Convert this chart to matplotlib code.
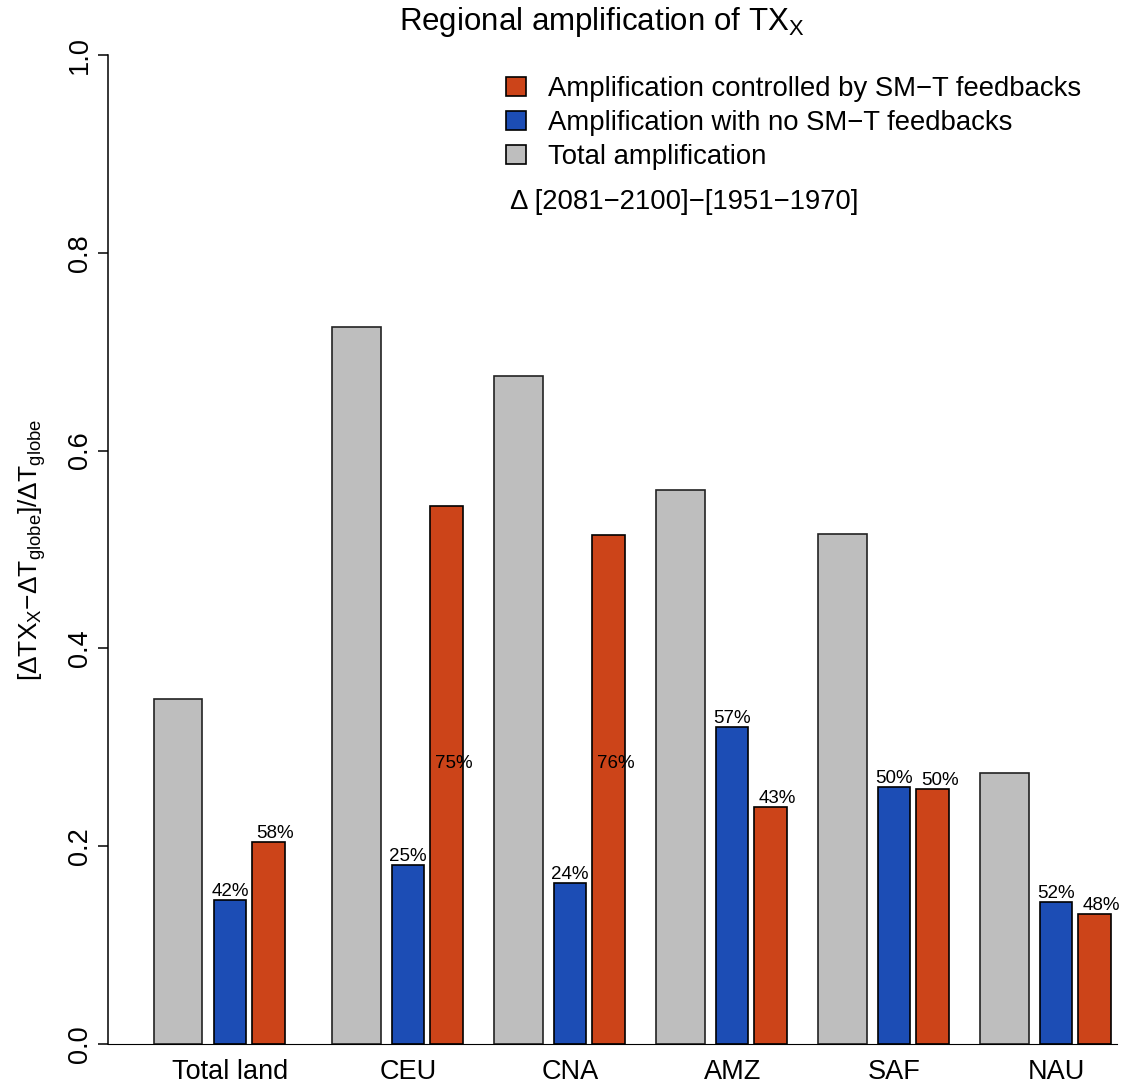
import numpy as np
import matplotlib
matplotlib.use('Agg')
import matplotlib.pyplot as plt
from matplotlib.patches import Patch

plt.rcParams['font.family'] = ['Liberation Sans', 'DejaVu Sans']
plt.rcParams['mathtext.fontset'] = 'custom'
plt.rcParams['mathtext.rm'] = 'Liberation Sans'
plt.rcParams['mathtext.it'] = 'Liberation Sans'
plt.rcParams['mathtext.bf'] = 'Liberation Sans:bold'

# data
regions = ['Total land', 'CEU', 'CNA', 'AMZ', 'SAF', 'NAU']
total_amp = [0.349, 0.725, 0.675, 0.560, 0.516, 0.274]
no_smt_amp = [0.146, 0.181, 0.163, 0.321, 0.260, 0.144]
smt_amp = [0.204, 0.544, 0.515, 0.240, 0.258, 0.131]
no_smt_pct = ['42%', '25%', '24%', '57%', '50%', '52%']
smt_pct = ['58%', '75%', '76%', '43%', '50%', '48%']

col_gray = '#bebebe'
col_blue = '#1c4db5'
col_red = '#cc4419'

fig = plt.figure(figsize=(11.25, 10.89), dpi=100)
ax = fig.add_axes([108 / 1125, 45 / 1089, 1009 / 1125, 989 / 1089])

# group layout (blue bar centres), first group sits a bit further left
group_x = np.array([0, 1.1, 2.1, 3.1, 4.1, 5.1])

ax.bar(group_x - 0.32, total_amp, width=0.30, color=col_gray,
       edgecolor='#222222', linewidth=1.2, zorder=2)
ax.bar(group_x, no_smt_amp, width=0.20, color=col_blue,
       edgecolor='black', linewidth=1.2, zorder=2)
ax.bar(group_x + 0.237, smt_amp, width=0.20, color=col_red,
       edgecolor='black', linewidth=1.2, zorder=2)

ax.axhline(0, color='black', linewidth=0.8, zorder=3, clip_on=False)


def label_y(v):
    # tall bars get their label inside the bar
    return v if v < 0.4 else 0.275


for i in range(len(regions)):
    ax.annotate(no_smt_pct[i], (group_x[i], label_y(no_smt_amp[i])),
                xytext=(0, 0), textcoords='offset points',
                ha='center', va='bottom', fontsize=13.5)
    ax.annotate(smt_pct[i], (group_x[i] + 0.237, label_y(smt_amp[i])),
                xytext=(5, 0), textcoords='offset points',
                ha='center', va='bottom', fontsize=13.5)

ax.set_xlim(-0.753, 5.475)
ax.set_ylim(0, 1)

for side in ['top', 'right', 'bottom']:
    ax.spines[side].set_visible(False)
ax.spines['left'].set_bounds(0, 1)
ax.spines['left'].set_linewidth(1.1)

ax.set_yticks(np.arange(0, 1.01, 0.2))
ax.set_yticklabels(['0.0', '0.2', '0.4', '0.6', '0.8', '1.0'])
ax.tick_params(axis='y', labelrotation=90, length=7.2, width=1.1,
               pad=3.5, labelsize=19.5)
for lab in ax.get_yticklabels():
    lab.set_va('center')

ax.set_xticks(group_x)
ax.set_xticklabels(regions)
ax.tick_params(axis='x', length=0, pad=11, labelsize=19.5)

ax.set_ylabel(r'$[\Delta\mathrm{TX}_\mathrm{X}{-}\Delta\mathrm{T}_{\mathrm{globe}}]/\Delta\mathrm{T}_{\mathrm{globe}}$',
              fontsize=19, labelpad=14)

fig.text(602 / 1125, 1 - 22 / 1089, r'Regional amplification of $\mathrm{TX}_\mathrm{X}$',
         ha='center', va='center', fontsize=22.5)

handles = [Patch(facecolor=col_red, edgecolor='black', linewidth=1.2),
           Patch(facecolor=col_blue, edgecolor='black', linewidth=1.2),
           Patch(facecolor=col_gray, edgecolor='black', linewidth=1.2)]
labels = ['Amplification controlled by SM\u2212T feedbacks',
          'Amplification with no SM\u2212T feedbacks',
          'Total amplification']
ax.legend(handles, labels, loc='upper left',
          bbox_to_anchor=(506 / 1125, 1 - 76 / 1089), bbox_transform=fig.transFigure,
          frameon=False, fontsize=19.8, handlelength=0.72, handleheight=0.72,
          handletextpad=0.8, labelspacing=0.29, borderaxespad=0, borderpad=0)

fig.text(510 / 1125, 1 - 202 / 1089, '\u0394 [2081\u22122100]\u2212[1951\u22121970]',
         ha='left', va='center', fontsize=19.8)

fig.savefig('out.png', dpi=100)
